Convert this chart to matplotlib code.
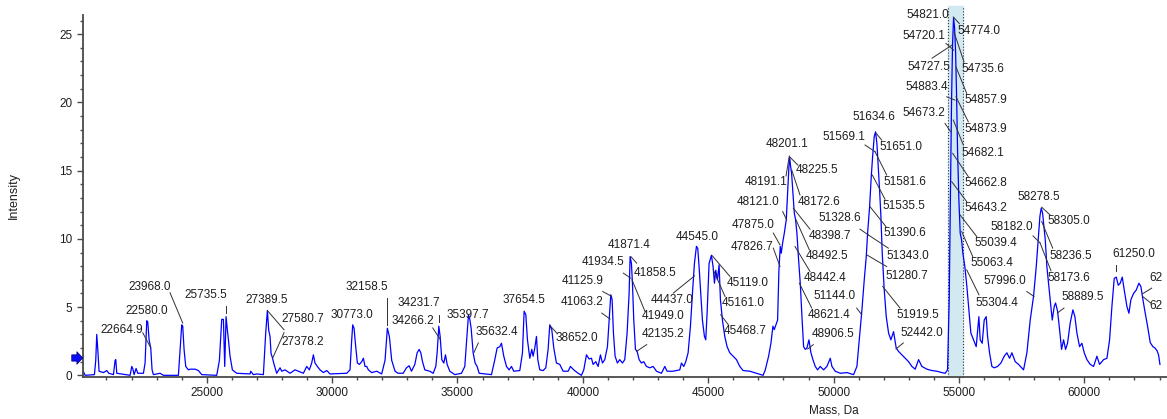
import numpy as np
import matplotlib.pyplot as plt
from matplotlib.ticker import MultipleLocator

plt.rcParams['font.family'] = ['Liberation Sans', 'DejaVu Sans']

# reconstructed spectrum (mass in Da, intensity)
mass = [
    20056, 20150, 20521, 20574, 20614, 20654, 20707, 20880, 21013, 21093,
    21280, 21345, 21373, 21412, 21944, 22010, 22050, 22103, 22183, 22250,
    22475, 22541, 22608, 22648, 22701, 22767, 22820, 22873, 23006, 23139,
    23272, 23870, 23937, 24003, 24043, 24096, 24163, 24269, 24336, 24535,
    24668, 24801, 25399, 25505, 25598, 25665, 25718, 25771, 25824, 25877,
    25930, 26023, 26196, 26728, 26754, 26860, 26993, 27259, 27352, 27419,
    27472, 27525, 27565, 27618, 27685, 27791, 27924, 27990, 28123, 28323,
    28522, 28655, 28854, 28987, 29093, 29186, 29253, 29319, 29412, 29519,
    29652, 29785, 29918, 30582, 30715, 30782, 30822, 30875, 30941, 31008,
    31088, 31181, 31247, 31313, 31380, 31446, 31579, 31779, 31978, 32111,
    32204, 32284, 32377, 32510, 32634, 32834, 32967, 33073, 33166, 33299,
    33392, 33472, 33538, 33605, 33698, 33897, 34030, 34136, 34189, 34256,
    34309, 34375, 34455, 34522, 34588, 34694, 34894, 35160, 35292, 35385,
    35439, 35492, 35545, 35625, 35704, 35784, 35864, 36356, 36489, 36582,
    36688, 36754, 36847, 36954, 37060, 37153, 37246, 37485, 37592, 37658,
    37725, 37791, 37884, 37964, 38017, 38083, 38150, 38203, 38283, 38416,
    38522, 38615, 38681, 38761, 38841, 38947, 39080, 39213, 39412, 39505,
    39638, 39811, 39944, 40037, 40144, 40250, 40343, 40409, 40516, 40609,
    40702, 40782, 40875, 40981, 41047, 41114, 41167, 41220, 41286, 41379,
    41472, 41579, 41672, 41765, 41845, 41885, 41938, 41978, 42031, 42098,
    42164, 42244, 42337, 42430, 42537, 42670, 42803, 42936, 43135, 43268,
    43361, 43600, 43866, 43932, 44025, 44105, 44198, 44291, 44371, 44450,
    44530, 44583, 44636, 44703, 44769, 44849, 44902, 44955, 45035, 45128,
    45195, 45248, 45301, 45367, 45434, 45487, 45567, 45660, 45753, 45860,
    45993, 46126, 46259, 46392, 46658, 46924, 47190, 47276, 47408, 47501,
    47581, 47634, 47701, 47767, 47820, 47873, 47913, 47967, 48033, 48113,
    48166, 48219, 48246, 48286, 48326, 48379, 48432, 48485, 48538, 48605,
    48671, 48738, 48804, 48871, 48937, 49017, 49096, 49176, 49269, 49362,
    49468, 49601, 49734, 49867, 49934, 50066, 50266, 50532, 50797, 50930,
    51037, 51130, 51223, 51303, 51356, 51436, 51502, 51555, 51621, 51674,
    51727, 51781, 51834, 51887, 51940, 52020, 52100, 52193, 52286, 52392,
    52498, 52592, 52724, 52857, 52990, 53123, 53256, 53389, 53522, 53721,
    53920, 54120, 54319, 54452, 54545, 54611, 54665, 54705, 54745, 54785,
    54824, 54864, 54904, 54944, 54997, 55050, 55103, 55156, 55236, 55316,
    55382, 55475, 55581, 55688, 55794, 55847, 55927, 56007, 56087, 56140,
    56220, 56313, 56406, 56539, 56672, 56805, 56911, 57018, 57111, 57244,
    57377, 57576, 57709, 57842, 57975, 58082, 58162, 58228, 58281, 58334,
    58388, 58441, 58507, 58587, 58667, 58720, 58800, 58853, 58933, 59013,
    59092, 59172, 59252, 59331, 59438, 59544, 59624, 59704, 59810, 59903,
    59996, 60103, 60236, 60369, 60502, 60608, 60768, 60901, 61007, 61100,
    61193, 61273, 61353, 61432, 61512, 61592, 61698, 61778, 61858, 61964,
    62070, 62177, 62257, 62336, 62429, 62522, 62629, 62735, 62817, 62900,
    62960, 63016,
]
intensity = [
    0.37, 0.0, 0.05, 1.1, 3.0, 1.9, 0.3, 0.2, 0.35, 0.15,
    0.05, 1.1, 1.15, 0.15, 0.0, 0.65, 0.5, 0.05, 0.5, 0.15,
    0.15, 0.9, 4.0, 3.9, 2.6, 2.0, 0.4, 0.05, 0.1, 0.15,
    0.0, 0.0, 1.9, 3.7, 3.6, 1.9, 0.65, 0.4, 0.45, 0.45,
    0.35, 0.05, 0.0, 1.1, 4.1, 4.1, 0.65, 4.3, 3.3, 2.4,
    1.4, 0.4, 0.15, 0.1, 0.3, 0.05, 0.1, 0.05, 3.1, 4.75,
    3.3, 2.85, 1.6, 1.3, 0.8, 0.15, 0.55, 0.3, 0.4, 0.15,
    0.4, 0.3, 0.15, 0.65, 0.4, 0.9, 1.5, 0.9, 0.65, 0.4,
    0.2, 0.35, 0.1, 0.15, 0.4, 2.6, 3.7, 3.45, 2.1, 0.9,
    0.8, 1.0, 1.25, 0.65, 0.65, 0.4, 0.2, 0.3, 0.1, 1.1,
    3.45, 2.85, 1.1, 0.3, 0.15, 0.15, 0.55, 0.7, 0.3, 0.8,
    1.65, 1.9, 1.65, 1.0, 0.4, 0.3, 0.15, 0.65, 1.65, 3.6,
    2.85, 1.15, 0.9, 1.5, 0.8, 0.3, 0.05, 0.15, 0.65, 3.1,
    4.45, 4.1, 3.45, 1.65, 0.9, 0.65, 0.15, 0.05, 1.15, 2.0,
    2.1, 2.35, 1.4, 0.65, 0.4, 0.65, 0.3, 0.35, 1.65, 4.7,
    4.45, 2.6, 1.25, 1.9, 1.4, 2.0, 2.85, 1.15, 0.4, 0.35,
    0.55, 1.9, 3.7, 3.35, 2.0, 0.9, 0.8, 0.3, 0.3, 0.65,
    0.4, 0.15, 0.0, 0.4, 1.5, 1.2, 1.25, 0.8, 1.0, 0.65,
    1.5, 0.9, 1.15, 2.1, 4.05, 5.9, 5.55, 3.1, 1.4, 0.9,
    1.15, 0.9, 1.15, 3.1, 6.0, 8.7, 8.2, 6.75, 4.05, 1.9,
    1.75, 1.15, 0.9, 1.0, 0.65, 0.55, 0.65, 0.3, 0.15, 0.65,
    0.3, 0.3, 0.4, 0.9, 0.65, 1.0, 1.65, 3.6, 6.0, 8.2,
    9.45, 9.3, 7.95, 6.0, 4.05, 2.85, 2.6, 4.55, 8.2, 8.8,
    7.95, 6.75, 7.7, 7.0, 8.1, 5.55, 4.05, 2.85, 2.1, 1.65,
    1.4, 1.15, 0.65, 0.35, 0.3, 0.15, 0.0, 0.4, 1.4, 2.35,
    3.6, 3.35, 3.7, 4.05, 7.7, 9.45, 8.95, 9.7, 10.4, 11.4,
    13.35, 15.3, 16.0, 15.3, 14.8, 13.35, 11.9, 11.4, 10.4, 8.45,
    6.75, 4.3, 2.1, 1.9, 2.0, 2.6, 1.65, 1.15, 0.65, 0.4,
    0.65, 0.4, 0.65, 1.25, 0.65, 0.3, 0.15, 0.2, 0.05, 0.65,
    2.85, 4.8, 7.0, 8.7, 10.4, 12.35, 14.55, 16.0, 17.5, 17.85,
    17.0, 15.3, 13.6, 11.65, 8.95, 6.25, 4.3, 3.1, 2.6, 3.2,
    2.0, 1.75, 1.5, 1.25, 1.0, 0.65, 0.45, 1.15, 0.65, 0.45,
    0.35, 0.3, 0.2, 0.15, 0.4, 5.55, 13.85, 20.2, 24.3, 26.2,
    25.5, 23.8, 20.65, 16.5, 12.85, 10.4, 9.95, 8.95, 7.95, 6.5,
    5.05, 3.1, 2.6, 2.1, 4.3, 2.6, 2.35, 4.05, 4.3, 2.85,
    1.65, 0.65, 0.55, 0.65, 0.9, 1.4, 1.65, 1.25, 1.65, 1.0,
    0.8, 0.4, 1.65, 4.05, 5.8, 7.95, 9.95, 11.65, 12.25, 11.9,
    10.9, 9.95, 7.95, 6.5, 5.05, 4.05, 5.05, 5.3, 4.7, 3.35,
    1.9, 2.6, 1.9, 2.35, 3.85, 4.8, 4.3, 3.1, 2.1, 2.35,
    1.65, 1.15, 0.8, 0.65, 1.4, 0.8, 1.15, 1.25, 2.6, 5.05,
    7.1, 7.2, 6.6, 6.75, 7.2, 6.25, 5.05, 4.55, 5.55, 6.0,
    6.25, 6.75, 6.5, 5.55, 4.55, 3.6, 2.4, 2.1, 2.0, 1.8,
    1.5, 0.8,
]

# selected mass window
band = (54553, 55174)

# peak labels: text, text position (x, y), leader line (x1, y1, x2, y2) or None
annotations = [
    ("22664.9", 21622, 3.34, (22448, 3.12, 22767, 2.02)),
    ("22580.0", 22607, 4.68, None),
    ("23968.0", 22739, 6.49, (23536, 6.05, 24043, 3.83)),
    ("25735.5", 24972, 5.90, (25770, 5.05, 25770, 4.56)),
    ("27389.5", 27405, 5.54, None),
    ("27580.7", 28843, 4.15, (28083, 3.34, 27417, 4.75)),
    ("27378.2", 28843, 2.41, (28083, 3.12, 27632, 1.27)),
    ("30773.0", 30795, 4.44, None),
    ("32158.5", 31393, 6.49, (32202, 5.68, 32202, 3.71)),
    ("34231.7", 33466, 5.30, (34264, 4.44, 34264, 3.88)),
    ("34266.2", 33227, 3.95, (34013, 3.47, 34304, 2.66)),
    ("35397.7", 35401, 4.44, None),
    ("35632.4", 36577, 3.15, (35831, 2.37, 35660, 1.68)),
    ("37654.5", 37654, 5.54, None),
    ("38652.0", 39768, 2.74, (38958, 3.10, 38691, 3.64)),
    ("41125.9", 39979, 6.88, (40792, 6.14, 41151, 5.78)),
    ("41063.2", 39967, 5.34, (40753, 4.56, 41084, 4.13)),
    ("41934.5", 40804, 8.27, (41614, 7.49, 41909, 7.12)),
    ("41871.4", 41842, 9.56, None),
    ("41858.5", 42878, 7.53, (42148, 8.22, 41909, 8.71)),
    ("41949.0", 43197, 4.32, (42479, 4.68, 41961, 7.00)),
    ("42135.2", 43197, 3.03, (42547, 2.25, 42148, 1.76)),
    ("44545.0", 44553, 10.17, None),
    ("44437.0", 43556, 5.54, (43608, 6.03, 44457, 7.29)),
    ("45119.0", 46591, 6.76, (45869, 7.24, 45163, 8.76)),
    ("45161.0", 46391, 5.30, (45670, 5.78, 45203, 7.73)),
    ("45468.7", 46471, 3.27, (45801, 3.71, 45498, 4.44)),
    ("47826.7", 46747, 9.44, (47596, 9.32, 47863, 7.97)),
    ("47875.0", 46787, 11.02, (47596, 10.42, 47863, 9.56)),
    ("48121.0", 46986, 12.73, (47971, 12.00, 48130, 11.39)),
    ("48191.1", 47305, 14.19, (48102, 14.61, 48234, 16.07)),
    ("48201.1", 48142, 16.95, None),
    ("48225.5", 49339, 15.05, (48581, 15.40, 48262, 15.98)),
    ("48172.6", 49419, 12.73, (48660, 13.22, 48330, 15.05)),
    ("48398.7", 49837, 10.22, (49059, 10.71, 48394, 12.25)),
    ("48492.5", 49718, 8.76, (49032, 9.20, 48502, 11.39)),
    ("48442.4", 49658, 7.13, (49059, 7.61, 48462, 9.44)),
    ("48621.4", 49818, 4.44, (49127, 4.93, 48633, 6.76)),
    ("48906.5", 49977, 3.03, (49191, 2.25, 48968, 1.93)),
    ("51144.0", 50037, 5.78, (50922, 4.93, 51121, 4.44)),
    ("51328.6", 50236, 11.51, (51053, 10.71, 51384, 10.29)),
    ("51280.7", 52908, 7.29, (52118, 7.97, 51321, 8.83)),
    ("51343.0", 52968, 8.76, (52183, 9.32, 51384, 10.29)),
    ("51390.6", 52828, 10.42, (52090, 10.90, 51452, 12.36)),
    ("51535.5", 52789, 12.41, (52051, 12.90, 51544, 14.68)),
    ("51581.6", 52828, 14.19, (52118, 14.68, 51652, 16.39)),
    ("51569.1", 50396, 17.48, (51253, 16.88, 51652, 16.39)),
    ("51634.6", 51611, 18.95, None),
    ("51651.0", 52668, 16.71, (51918, 17.24, 51679, 17.78)),
    ("51919.5", 53367, 4.44, (52649, 4.93, 51959, 6.51)),
    ("52442.0", 53526, 3.10, (52781, 2.37, 52489, 1.93)),
    ("54821.0", 53764, 26.39, None),
    ("54774.0", 55798, 25.24, (55014, 25.78, 54775, 26.26)),
    ("54720.1", 53585, 24.85, (54483, 24.32, 54791, 23.83)),
    ("54727.5", 53805, 22.60, (53925, 23.24, 54711, 24.19)),
    ("54735.6", 55958, 22.44, (55201, 22.97, 54802, 25.16)),
    ("54883.4", 53705, 21.14, (54511, 20.41, 54842, 20.17)),
    ("54857.9", 56078, 20.17, (55309, 20.66, 54882, 22.60)),
    ("54673.2", 53585, 19.20, (54443, 18.46, 54671, 17.85)),
    ("54873.9", 56078, 18.05, (55373, 18.58, 54882, 20.41)),
    ("54682.1", 55938, 16.31, (55173, 16.88, 54774, 18.71)),
    ("54662.8", 56078, 14.07, (55373, 14.56, 54750, 16.27)),
    ("54643.2", 56078, 12.25, (55309, 12.73, 54711, 14.19)),
    ("55039.4", 56477, 9.69, (55708, 10.17, 55042, 11.76)),
    ("55063.4", 56317, 8.22, (55548, 8.71, 55109, 10.53)),
    ("55304.4", 56517, 5.30, (55799, 5.90, 55309, 7.73)),
    ("57996.0", 56836, 6.93, (57702, 6.14, 57993, 5.78)),
    ("58182.0", 57115, 10.90, (57953, 10.22, 58232, 9.71)),
    ("58278.5", 58193, 13.09, None),
    ("58305.0", 59389, 11.34, (58630, 11.76, 58299, 12.32)),
    ("58236.5", 59469, 8.76, (58739, 9.32, 58299, 11.27)),
    ("58173.6", 59389, 7.13, (58671, 7.66, 58232, 9.71)),
    ("58889.5", 59948, 5.71, (59189, 4.93, 58922, 4.56)),
    ("61250.0", 61964, 8.90, (61263, 8.10, 61263, 7.61)),
]
# labels running off the right edge
edge_labels = [
    ("62", 62581, 7.14, (62686, 6.39, 62327, 5.98)),
    ("62", 62581, 5.05, (62647, 5.30, 62327, 5.78)),
]

fig = plt.figure(figsize=(11.67, 4.19), dpi=100)
ax = fig.add_axes([0.0709, 0.101, 0.9291, 0.863])

ymin, ymax = -0.1, 26.4
band_top = 27.05

span = ax.axvspan(band[0], band[1], ymin=0, ymax=(band_top - ymin) / (ymax - ymin),
                  color='#d3e9f1', zorder=0)
span.set_clip_on(False)
for b in band:
    ax.plot([b, b], [ymin, band_top], ls=':', color='#333333', lw=0.8, zorder=1, clip_on=False)

ax.plot(mass, intensity, color='#0000ff', lw=0.9, zorder=2)

txt_kw = dict(fontsize=8.5, color='#1e1e1e', zorder=4)
for s, tx, ty, lead in annotations:
    ax.text(tx, ty, s, ha='center', va='center', **txt_kw)
    if lead:
        ax.plot([lead[0], lead[2]], [lead[1], lead[3]], color='#303030', lw=0.7, zorder=3)
for s, tx, ty, lead in edge_labels:
    ax.text(tx, ty, s, ha='left', va='center', clip_on=False, **txt_kw)
    ax.plot([lead[0], lead[2]], [lead[1], lead[3]], color='#303030', lw=0.7, zorder=3)

# threshold marker on the y axis
ax.annotate('', xy=(0, 1.27), xycoords=('axes fraction', 'data'),
            xytext=(-11, 0), textcoords='offset pixels',
            arrowprops=dict(arrowstyle='simple,head_length=0.35,head_width=0.75,tail_width=0.38',
                            mutation_scale=12, fc='#0b0bf5', ec='#00007a', lw=0.5,
                            shrinkA=0, shrinkB=0),
            annotation_clip=False)

ax.set_xlim(20055, 63297)
ax.set_ylim(ymin, ymax)
ax.xaxis.set_major_locator(MultipleLocator(5000))
ax.xaxis.set_minor_locator(MultipleLocator(1000))
ax.yaxis.set_major_locator(MultipleLocator(5))
ax.yaxis.set_minor_locator(MultipleLocator(1))

for side in ('top', 'right'):
    ax.spines[side].set_visible(False)
for side in ('left', 'bottom'):
    ax.spines[side].set_color('#4a4a4a')
    ax.spines[side].set_linewidth(1.3)
ax.tick_params(which='major', length=4, width=1, color='#4a4a4a',
               labelsize=8.5, labelcolor='#1e1e1e', pad=3.5)
ax.tick_params(which='minor', length=2, width=1, color='#4a4a4a')

fig.text(14 / 1167, 1 - 195.8 / 419, 'Intensity', rotation=90,
         ha='center', va='center', fontsize=9, color='#1e1e1e')
fig.text(834 / 1167, 1 - 410.7 / 419, 'Mass, Da', ha='center', va='center',
         fontsize=8.5, color='#1e1e1e')

fig.savefig('out.png', dpi=100)
